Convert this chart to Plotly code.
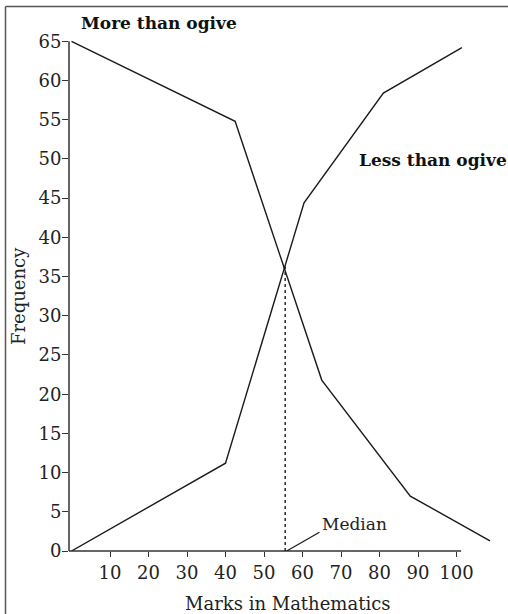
import plotly.graph_objects as go

# ---- data ----
MORE_X = [0, 42.5, 65, 88, 108.7]          # "More than ogive"
MORE_Y = [65, 54.8, 21.8, 7.0, 1.3]
LESS_X = [0, 40, 60.4, 81, 101.4]          # "Less than ogive"
LESS_Y = [0, 11.2, 44.4, 58.4, 64.2]
MEDIAN = 55.5
MEDIAN_FREQ = 36.3
X_TICKS = [10, 20, 30, 40, 50, 60, 70, 80, 90, 100]
Y_TICKS = [0, 5, 10, 15, 20, 25, 30, 35, 40, 45, 50, 55, 60, 65]

# ---- layout geometry ----
W, H = 508, 614
ML, MR, MT, MB = 69, 11, 30, 63
XR = [-0.65, 110.52]
YR = [0, 66.45]
PW = W - ML - MR
PH = H - MT - MB

def px_x(px):  # pixel -> paper x
    return (px - ML) / PW

def px_y(py):  # pixel -> paper y
    return (H - MB - py) / PH

def dx_paper(v):
    return (v - XR[0]) / (XR[1] - XR[0])

def dy_paper(v):
    return (v - YR[0]) / (YR[1] - YR[0])

FONT = "DejaVu Serif"
INK = "#1a1a1a"

fig = go.Figure()
fig.add_trace(go.Scatter(x=MORE_X, y=MORE_Y, mode="lines",
                         line=dict(color=INK, width=1.4),
                         showlegend=False, hoverinfo="skip"))
fig.add_trace(go.Scatter(x=LESS_X, y=LESS_Y, mode="lines",
                         line=dict(color=INK, width=1.4),
                         showlegend=False, hoverinfo="skip"))

shapes = []
# axis lines
shapes.append(dict(type="line", xref="paper", yref="paper",
                   x0=0, x1=0, y0=0, y1=dy_paper(Y_TICKS[-1]),
                   line=dict(color="#333", width=1.5)))
shapes.append(dict(type="line", xref="paper", yref="paper",
                   x0=0, x1=dx_paper(101.2), y0=0, y1=0,
                   line=dict(color="#333", width=1.5)))
# median dotted line
shapes.append(dict(type="line", xref="x", yref="y",
                   x0=MEDIAN, x1=MEDIAN, y0=0, y1=MEDIAN_FREQ,
                   line=dict(color=INK, width=1.4, dash="dot")))
# median pointer
shapes.append(dict(type="line", xref="x", yref="y",
                   x0=MEDIAN + 0.4, x1=MEDIAN + 8.9, y0=0, y1=2.4,
                   line=dict(color=INK, width=1.2)))
# frame (top and left border)
shapes.append(dict(type="line", xref="paper", yref="paper",
                   x0=px_x(5.5), x1=px_x(W), y0=px_y(6.5), y1=px_y(6.5),
                   line=dict(color="#555", width=1.5)))
shapes.append(dict(type="line", xref="paper", yref="paper",
                   x0=px_x(5.5), x1=px_x(5.5), y0=px_y(6.5), y1=px_y(H),
                   line=dict(color="#555", width=1.5)))

annotations = [
    dict(text="<b>More than ogive</b>", xref="paper", yref="paper",
         x=px_x(159), y=px_y(23), showarrow=False,
         xanchor="center", yanchor="middle",
         font=dict(family=FONT, size=17, color="#111")),
    dict(text="<b>Less than ogive</b>", xref="paper", yref="paper",
         x=px_x(433), y=px_y(160), showarrow=False,
         xanchor="center", yanchor="middle",
         font=dict(family=FONT, size=17, color="#111")),
    dict(text="Median", xref="x", yref="y", x=MEDIAN + 9, y=3.4,
         xanchor="left", yanchor="middle", showarrow=False,
         font=dict(family=FONT, size=17, color="#222")),
    dict(text="Marks in Mathematics", xref="paper", yref="paper",
         x=px_x(287.5), y=px_y(603), showarrow=False,
         xanchor="center", yanchor="middle",
         font=dict(family=FONT, size=18, color="#222")),
    dict(text="Frequency", xref="paper", yref="paper",
         x=px_x(18), y=px_y(296), showarrow=False, textangle=-90,
         xanchor="center", yanchor="middle",
         font=dict(family=FONT, size=18, color="#222")),
]

fig.update_layout(
    width=W, height=H, autosize=False,
    margin=dict(l=ML, r=MR, t=MT, b=MB, pad=0),
    paper_bgcolor="white", plot_bgcolor="white",
    shapes=shapes, annotations=annotations,
    xaxis=dict(range=XR, tickvals=X_TICKS, ticktext=[str(v) for v in X_TICKS],
               ticks="outside", ticklen=5, tickwidth=1.3, tickcolor="#333",
               showgrid=False, zeroline=False, showline=False,
               tickfont=dict(family=FONT, size=18, color="#222")),
    yaxis=dict(range=YR, tickvals=Y_TICKS, ticktext=[str(v) for v in Y_TICKS],
               ticks="outside", ticklen=6, tickwidth=1.3, tickcolor="#333",
               showgrid=False, zeroline=False, showline=False,
               ticklabelstandoff=-3,
               tickfont=dict(family=FONT, size=18, color="#222")),
)

fig.write_html(
    "out.html",
    config={"displayModeBar": False},
    post_script="document.body.style.margin='0';document.body.style.overflow='hidden';",
)
